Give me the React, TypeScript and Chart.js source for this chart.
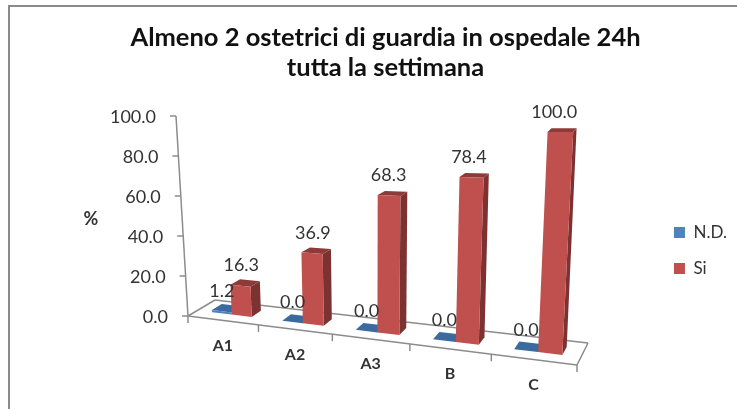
import React, { useEffect, useRef } from "react";
import { Chart, registerables } from "chart.js";

Chart.register(...registerables);

const categories = ["A1", "A2", "A3", "B", "C"];
const seriesNames = ["N.D.", "Si"];
const ndValues = [1.2, 0, 0, 0, 0];
const siValues = [16.3, 36.9, 68.3, 78.4, 100];
const titleLines = ["Almeno 2 ostetrici di guardia in ospedale 24h", "tutta la settimana"];
const axisTitle = "%";

const FONT = "Lato, 'Open Sans', sans-serif";
const TEXT = "#333333";
const AXIS = "#8c8c8c";

// Corners of the 3D plot box on screen (layout of the projection only)
const P = {
  fl0: [188, 316], fr0: [577, 365], bl0: [215, 300], br0: [588, 343],
  fl1: [177, 132], fr1: [590, 136], bl1: [207, 128], br1: [598, 125],
};
const AXIS_TOP = [176, 116];
const PERSP = 1.13;
const DEPTH_FRONT = 0.35;
const DEPTH_BACK = 0.72;

const lerp = (a: number, b: number, t: number) => a + (b - a) * t;
const lerp2 = (a: number[], b: number[], t: number) => [lerp(a[0], b[0], t), lerp(a[1], b[1], t)];
// u: 0..1 along categories, v: 0..1 depth, w: 0..1 height
function project(u: number, v: number, w: number) {
  const s = u / (u + PERSP * (1 - u));
  const front = lerp2(lerp2(P.fl0, P.fr0, s), lerp2(P.fl1, P.fr1, s), w);
  const back = lerp2(lerp2(P.bl0, P.br0, s), lerp2(P.bl1, P.br1, s), w);
  return lerp2(front, back, v);
}

function poly(ctx: CanvasRenderingContext2D, pts: number[][], fill: string) {
  ctx.beginPath();
  pts.forEach((p, i) => (i ? ctx.lineTo(p[0], p[1]) : ctx.moveTo(p[0], p[1])));
  ctx.closePath();
  ctx.fillStyle = fill;
  ctx.fill();
}
function line(ctx: CanvasRenderingContext2D, a: number[], b: number[]) {
  ctx.beginPath();
  ctx.moveTo(a[0], a[1]);
  ctx.lineTo(b[0], b[1]);
  ctx.stroke();
}

const shades: Record<string, { side: string; top: string }> = {
  "#4F81BD": { side: "#2F5A8C", top: "#3A6A9E" },
  "#C0504D": { side: "#7C3230", top: "#8E3A38" },
};

const box3d = {
  id: "box3d",
  beforeDraw(chart: any) {
    const ctx = chart.ctx;
    ctx.save();
    ctx.fillStyle = "#ffffff";
    ctx.fillRect(0, 0, chart.width, chart.height);
    ctx.fillStyle = "#8a8a8a";
    ctx.fillRect(8, 5, chart.width - 8, 2);
    ctx.fillRect(8, 5, 2, chart.height - 5);
    ctx.restore();
  },
  beforeDatasetsDraw(chart: any) {
    const ctx: CanvasRenderingContext2D = chart.ctx;
    const { chartArea: ca, scales } = chart;
    const xs = scales.x;
    const ys = scales.y;
    const U = (px: number) => (px - ca.left) / (ca.right - ca.left);
    const W = (px: number) => (ca.bottom - px) / (ca.bottom - ca.top);
    ctx.save();

    // floor outline
    ctx.strokeStyle = AXIS;
    ctx.lineWidth = 1.5;
    const c = [project(0, 0, 0), project(1, 0, 0), project(1, 1, 0), project(0, 1, 0)];
    line(ctx, c[0], c[1]);
    line(ctx, c[1], c[2]);
    line(ctx, c[2], c[3]);
    line(ctx, c[3], c[0]);
    // value axis
    line(ctx, P.fl0, AXIS_TOP);

    // value ticks and their labels
    ctx.textBaseline = "middle";
    ctx.fillStyle = TEXT;
    ctx.font = `18px ${FONT}`;
    ctx.textAlign = "right";
    ys.ticks.forEach((t: any) => {
      const p = lerp2(P.fl0, AXIS_TOP, W(ys.getPixelForValue(t.value)));
      line(ctx, [p[0] - 6, p[1]], p);
      ctx.fillStyle = TEXT;
      ctx.fillText(t.label, p[0] - 20, p[1] + 1);
    });

    // category ticks and labels
    const n = xs.ticks.length;
    for (let i = 0; i <= n; i++) {
      const p = project(i / n, 0, 0);
      line(ctx, p, [p[0], p[1] + 7]);
    }
    ctx.textAlign = "center";
    ctx.font = `bold 16px ${FONT}`;
    xs.ticks.forEach((t: any, i: number) => {
      const p = project(U(xs.getPixelForValue(i)), 0, 0);
      ctx.fillText(t.label, p[0], p[1] + 25);
    });
    ctx.font = `bold 18px ${FONT}`;
    ctx.fillText(axisTitle, 91, 219);

    // bars
    const labels: { t: string; x: number; y: number }[] = [];
    chart.data.datasets.forEach((ds: any, di: number) => {
      const meta = chart.getDatasetMeta(di);
      meta.data.forEach((el: any, i: number) => {
        const { x, y, base, width } = el.getProps(["x", "y", "base", "width"], true);
        const u0 = U(x - width / 2);
        const u1 = U(x + width / 2);
        const w0 = W(base);
        const w1 = W(y);
        const v0 = DEPTH_FRONT;
        const v1 = DEPTH_BACK;
        const sh = shades[ds.backgroundColor];
        poly(ctx, [project(u1, v0, w0), project(u1, v1, w0), project(u1, v1, w1), project(u1, v0, w1)], sh.side);
        poly(ctx, [project(u0, v0, w1), project(u1, v0, w1), project(u1, v1, w1), project(u0, v1, w1)], sh.top);
        poly(ctx, [project(u0, v0, w0), project(u1, v0, w0), project(u1, v0, w1), project(u0, v0, w1)], ds.backgroundColor);
        const a = project(u0, v0, w1);
        const b = project(u1, v0, w1);
        const midU = (u0 + u1) / 2;
        const foot = project(midU, v0, w0);
        const head = project(midU, v0, w1);
        labels.push({ t: ds.data[i].toFixed(1), x: lerp(foot[0], head[0], 0.4), y: (a[1] + b[1]) / 2 - 20 });
      });
    });

    ctx.font = `18px ${FONT}`;
    ctx.fillStyle = TEXT;
    ctx.textAlign = "center";
    labels.forEach((l) => ctx.fillText(l.t, l.x, l.y));
    ctx.restore();
    return false;
  },
};

export default function App() {
  const ref = useRef<HTMLCanvasElement>(null);
  useEffect(() => {
    const chart = new Chart(ref.current!, {
      type: "bar",
      data: {
        labels: categories,
        datasets: [
          { label: seriesNames[0], data: ndValues, backgroundColor: "#4F81BD" },
          { label: seriesNames[1], data: siValues, backgroundColor: "#C0504D" },
        ],
      },
      options: {
        responsive: false,
        animation: false,
        layout: { padding: { left: 34, right: 0, top: 23, bottom: 0 } },
        datasets: { bar: { barPercentage: 1, categoryPercentage: 0.57 } },
        scales: {
          x: { display: false },
          y: {
            display: false,
            min: 0,
            max: 100,
            ticks: { stepSize: 20, callback: (v: any) => Number(v).toFixed(1) },
          },
        },
        plugins: {
          tooltip: { enabled: false },
          title: {
            display: true,
            text: titleLines,
            color: "#111111",
            font: { family: FONT, size: 25.5, weight: "bold", lineHeight: 1.16 },
            padding: { top: 0, bottom: 10 },
          },
          legend: {
            position: "right",
            fullSize: false,
            onClick: () => {},
            labels: {
              boxWidth: 11,
              boxHeight: 11,
              padding: 19,
              color: TEXT,
              font: { family: FONT, size: 17 },
            },
          },
        },
      },
      plugins: [box3d],
    } as any);
    return () => chart.destroy();
  }, []);
  return (
    <div style={{ position: "fixed", left: 0, top: 0, width: 737, height: 409 }}>
      <canvas ref={ref} width={737} height={409} style={{ display: "block" }} />
    </div>
  );
}
